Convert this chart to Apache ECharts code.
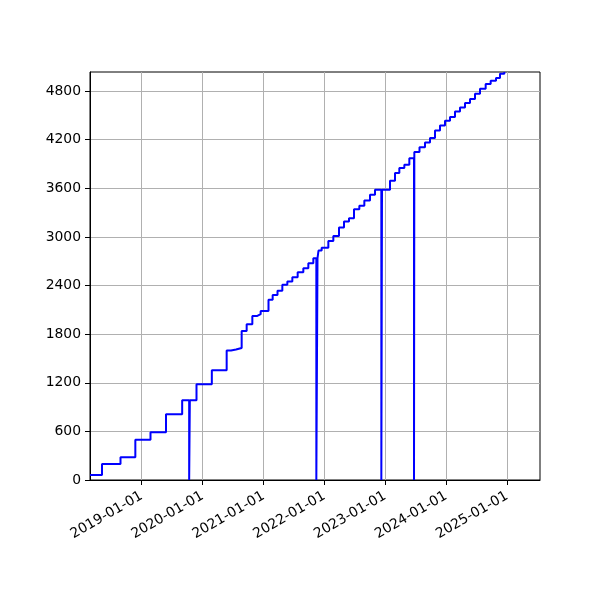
<!DOCTYPE html>
<html>
<head>
<meta charset="utf-8">
<script src="https://cdn.jsdelivr.net/npm/echarts@6/dist/echarts.min.js"></script>
<style>html,body{margin:0;padding:0;background:#fff}#c{width:600px;height:600px}</style>
</head>
<body>
<div id="c"></div>
<script>
const dates = [
  '2018-02-25','2018-05-08','2018-08-27','2018-11-24','2019-02-23','2019-05-27','2019-09-01',
  '2019-10-13','2019-10-17','2019-11-26','2020-02-26','2020-05-25','2020-06-20','2020-07-20',
  '2020-08-23','2020-09-22','2020-10-26','2020-11-25','2020-12-15','2021-01-31','2021-02-25',
  '2021-03-26','2021-04-24','2021-05-24','2021-06-23','2021-07-25','2021-08-28','2021-09-27',
  '2021-10-27','2021-11-14','2021-11-21','2021-11-27','2021-12-16','2022-01-25','2022-02-24',
  '2022-03-30','2022-04-29','2022-05-29','2022-06-28','2022-07-30','2022-08-29','2022-10-02',
  '2022-11-01','2022-12-09','2022-12-13','2023-01-30','2023-03-01','2023-03-27','2023-04-26',
  '2023-05-26','2023-06-23','2023-06-25','2023-07-26','2023-08-28','2023-09-27','2023-10-27',
  '2023-11-26','2023-12-26','2024-01-25','2024-02-24','2024-03-25','2024-04-24','2024-05-24',
  '2024-06-23','2024-07-23','2024-08-26','2024-09-25','2024-10-27','2024-11-20','2024-12-16'
];
const values = [
  62, 198, 280, 498, 589, 811, 984,
  0, 984, 1182, 1355, 1597, 1610, 1630,
  1840, 1923, 2025, 2046, 2087, 2223, 2284,
  2334, 2408, 2449, 2503, 2565, 2614, 2676,
  2738, 0, 2738, 2832, 2865, 2950, 3010,
  3116, 3190, 3231, 3342, 3384, 3449, 3519,
  3581, 0, 3581, 3692, 3788, 3849, 3890,
  3972, 0, 4047, 4106, 4165, 4220, 4313,
  4375, 4433, 4479, 4548, 4597, 4652, 4701,
  4767, 4828, 4886, 4927, 4961, 5014, 5035
];
const xTickLabels = ['2019-01-01','2020-01-01','2021-01-01','2022-01-01','2023-01-01','2024-01-01','2025-01-01'];
const yTickValues = [0, 600, 1200, 1800, 2400, 3000, 3600, 4200, 4800];
const xRange = ['2018-02-25', '2025-07-18'];
const yMax = 5035;

const P = s => Date.UTC(+s.slice(0, 4), +s.slice(5, 7) - 1, +s.slice(8, 10));
const fmt = v => {
  const d = new Date(v);
  const p = n => String(n).padStart(2, '0');
  return d.getUTCFullYear() + '-' + p(d.getUTCMonth() + 1) + '-' + p(d.getUTCDate());
};
const seriesData = dates.map((d, i) => [P(d), values[i]]);
const xTicks = xTickLabels.map(P);
const font = 'DejaVu Sans';

const chart = echarts.init(document.getElementById('c'), null, {renderer: 'canvas'});
chart.setOption({
  animation: false,
  backgroundColor: '#fff',
  grid: {left: 90, right: 60, top: 72, bottom: 120, show: true, borderColor: '#000', borderWidth: 1, backgroundColor: 'transparent'},
  xAxis: {
    type: 'value',
    min: P(xRange[0]), max: P(xRange[1]),
    axisLine: {show: true, onZero: false, lineStyle: {color: '#000', width: 1}},
    axisTick: {show: true, length: 5, lineStyle: {color: '#000', width: 1}, customValues: xTicks},
    axisLabel: {
      customValues: xTicks, rotate: 30, margin: 15,
      color: '#000', fontFamily: font, fontSize: 13.9,
      formatter: v => fmt(v)
    },
    splitLine: {show: true, lineStyle: {color: '#b0b0b0', width: 1}}
  },
  yAxis: {
    type: 'value', min: 0, max: yMax,
    axisLine: {show: true, onZero: false, lineStyle: {color: '#000', width: 1}},
    axisTick: {show: true, length: 5, lineStyle: {color: '#000', width: 1}, customValues: yTickValues},
    axisLabel: {customValues: yTickValues, margin: 9, color: '#000', fontFamily: font, fontSize: 13.9,
      formatter: v => String(v)},
    splitLine: {show: true, lineStyle: {color: '#b0b0b0', width: 1}}
  },
  series: [{
    type: 'line', step: 'end', data: seriesData, showSymbol: false, symbol: 'none',
    lineStyle: {color: '#0000ff', width: 2}, clip: true
  }]
});
</script>
</body>
</html>
